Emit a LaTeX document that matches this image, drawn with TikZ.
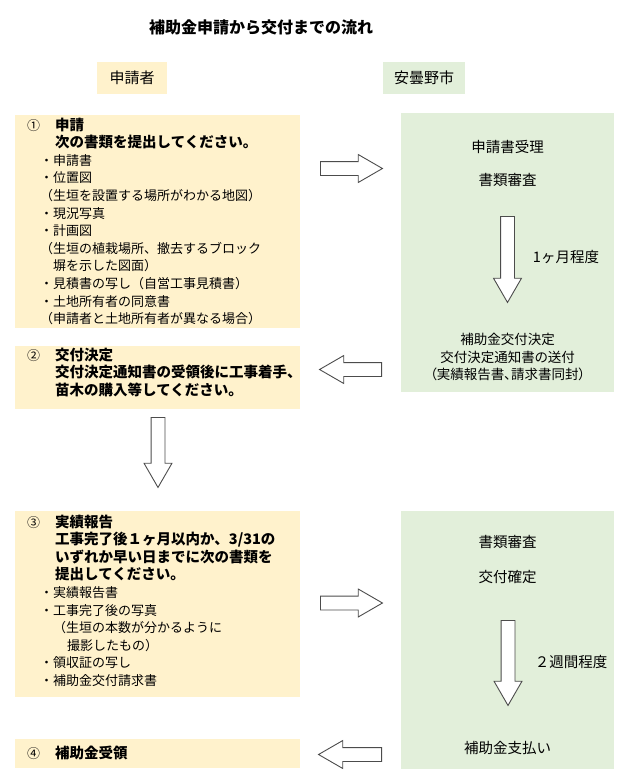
\documentclass[tikz,border=0pt]{standalone}
\usepackage{fontspec}
\setmainfont{Noto Sans CJK JP}
\newfontfamily\jpprop[RawFeature=+palt]{Noto Sans CJK JP}
\usepackage{xcolor}
\usepackage{tikz}
\usetikzlibrary{shapes.arrows,positioning,calc}

\definecolor{appfill}{HTML}{FFF2CC}
\definecolor{cityfill}{HTML}{E2EFDA}

\newcommand{\numcol}[1]{\makebox[28pt][l]{#1}}
\newcommand{\ind}{\hspace*{28pt}}
\newcommand{\bul}{\hspace*{13pt}}
\newcommand{\bt}[1]{{\fontsize{14.5}{17.6}\selectfont\bfseries #1}}

\begin{document}
\begin{tikzpicture}[x=1pt, y=-1pt, font=\fontsize{13}{17.6}\selectfont]
    \tikzstyle{appbox} = [rectangle, fill=appfill, inner sep=0pt, anchor=north west, minimum width=285pt]
    \tikzstyle{citybox} = [rectangle, fill=cityfill, inner sep=0pt, anchor=north west, minimum width=213pt]
    \tikzstyle{head} = [rectangle, inner sep=0pt, minimum height=32pt, font=\fontsize{15}{18}\selectfont]
    \tikzstyle{txt} = [inner sep=0pt, anchor=base west, text width=290pt, align=left]
    \tikzstyle{ctxt} = [inner sep=0pt, align=center, font=\fontsize{14.5}{17.6}\selectfont]
    \tikzstyle{blockarrow} = [single arrow, draw=black!70, fill=white, line width=0.9pt, inner sep=6.5pt, single arrow head extend=7pt, single arrow tip angle=60, anchor=tail]

    \path [use as bounding box] (0,0) rectangle (625,782);

    % title and column heads
    \node [font=\fontsize{16}{19}\selectfont\bfseries] (title) at (261,27) {補助金申請から交付までの流れ};
    \node [head, fill=appfill, minimum width=70pt] (hdrapp) at (132,78) {申請者};
    \node [head, fill=cityfill, minimum width=82pt] (hdrcity) at (424,78) {安曇野市};

    % boxes
    \node [appbox, minimum height=213pt] (app1) at (15,115) {};
    \node [appbox, minimum height=63pt] (app2) at (15,346) {};
    \node [appbox, minimum height=186pt] (app3) at (15,511) {};
    \node [appbox, minimum height=29pt] (app4) at (15,739) {};
    \node [citybox, minimum height=279pt] (city1) at (401,113) {};
    \node [citybox, minimum height=258pt] (city2) at (401,511) {};

    % applicant side
    \node [txt] (t1) at ($(app1.north west)+(12,15)$) {\numcol{①}\bt{申請}\\
        \ind\bt{次の書類を提出してください。}\\
        \bul・申請書\\
        \bul・位置図\\
        \bul（生垣を設置する場所がわかる地図）\\
        \bul・現況写真\\
        \bul・計画図\\
        \bul（生垣の植栽場所、撤去するブロック\\
        \bul\hspace*{13pt}塀を示した図面）\\
        \bul・見積書の写し（自営工事見積書）\\
        \bul・土地所有者の同意書\\
        \bul（申請者と土地所有者が異なる場合）};
    \node [txt] (t2) at ($(app2.north west)+(12,14)$) {\numcol{②}\bt{交付決定}\\
        \ind\bt{交付決定通知書の受領後に工事着手、}\\
        \ind\bt{苗木の購入等してください。}};
    \node [txt] (t3) at ($(app3.north west)+(12,16)$) {\numcol{③}\bt{実績報告}\\
        \ind\bt{工事完了後１ヶ月以内か、3/31の}\\
        \ind\bt{いずれか早い日までに次の書類を}\\
        \ind\bt{提出してください。}\\
        \bul・実績報告書\\
        \bul・工事完了後の写真\\
        \bul\hspace*{13pt}（生垣の本数が分かるように\\
        \bul\hspace*{27pt}撮影したもの）\\
        \bul・領収証の写し\\
        \bul・補助金交付請求書};
    \node [txt] (t4) at ($(app4.north west)+(12,19)$) {\numcol{④}\bt{補助金受領}};

    % city side
    \node [ctxt] (c1a) at ($(city1.north)+(0,34)$) {申請書受理};
    \node [ctxt] (c1b) at ($(city1.north)+(0,67)$) {書類審査};
    \node [ctxt, font=\fontsize{13.5}{17.6}\selectfont\jpprop] (c1c) at ($(city1.north)+(0,244)$) {補助金交付決定\\交付決定通知書の送付\\（実績報告書、請求書同封）};
    \node [ctxt] (c2a) at ($(city2.north)+(0,31)$) {書類審査};
    \node [ctxt] (c2b) at ($(city2.north)+(0,66)$) {交付確定};
    \node [ctxt] (c2c) at ($(city2.north)+(0,237)$) {補助金支払い};

    % block arrows
    \node [blockarrow, minimum height=62pt] (r1) at (320,168.5) {};
    \node [blockarrow, minimum height=62pt, rotate=180] (l1) at (382,369.5) {};
    \node [blockarrow, minimum height=62pt] (r2) at (320,603) {};
    \node [blockarrow, minimum height=63pt, rotate=180] (l2) at (382,754.5) {};
    \node [blockarrow, minimum height=70pt, rotate=-90] (d1) at (158,417) {};
    \node [blockarrow, minimum height=86pt, rotate=-90] (d2) at (507.5,216) {};
    \node [blockarrow, minimum height=85pt, rotate=-90] (d3) at (508,620) {};
    \node [ctxt] (lab1) at (566,257) {1ヶ月程度};
    \node [ctxt] (lab2) at (571,662) {２週間程度};
\end{tikzpicture}
\end{document}
